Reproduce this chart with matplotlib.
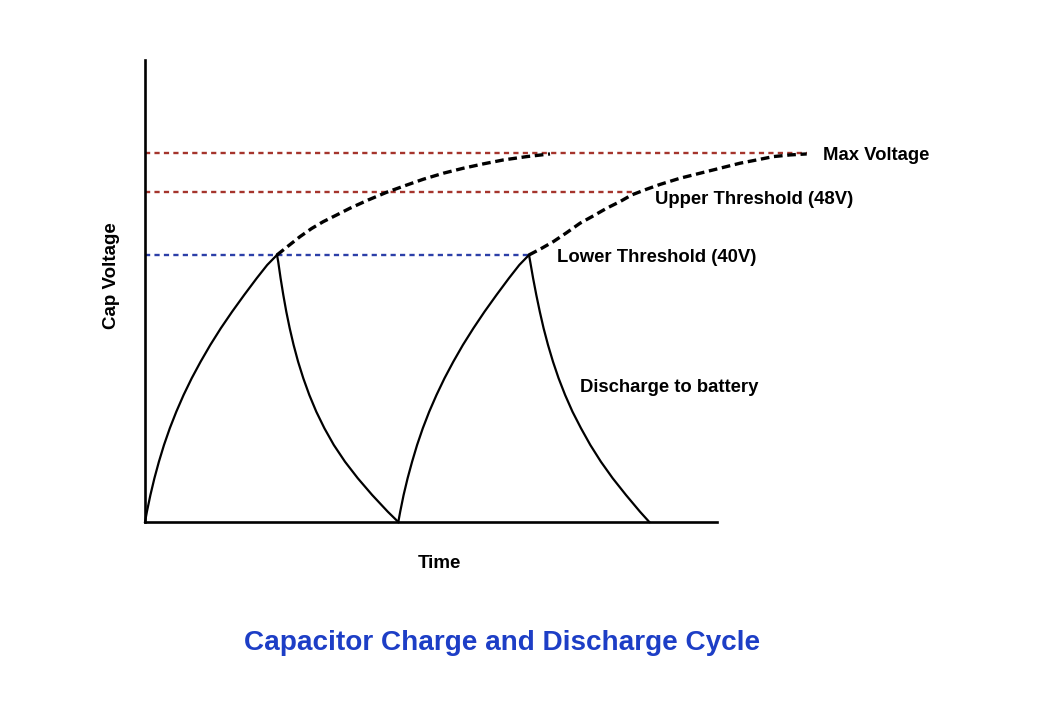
import matplotlib

matplotlib.use("Agg")
import matplotlib.pyplot as plt

plt.rcParams["font.family"] = ["Liberation Sans", "DejaVu Sans"]
plt.rcParams["font.weight"] = "bold"

# arbitrary time units, voltage scaled so the lower threshold sits at 40
charge1_t = [0.0, 0.19, 0.54, 0.94, 1.39, 1.9, 2.48, 3.13, 3.86, 4.67, 5.56,
             6.53, 7.58, 8.71, 9.92, 11.17, 12.22, 13.2]
charge1_v = [0.0, 1.54, 4.04, 6.55, 9.03, 11.54, 14.04, 16.52, 19.03, 21.53,
             24.01, 26.52, 29.02, 31.5, 34.01, 36.51, 38.5, 40.0]
discharge1_t = [13.2, 13.32, 13.56, 13.83, 14.13, 14.47, 14.86, 15.31, 15.83,
                16.43, 17.13, 17.94, 18.88, 20.0, 21.28, 22.72, 24.28, 25.33]
discharge1_v = [40.0, 39.0, 36.51, 34.01, 31.5, 29.02, 26.52, 24.01, 21.53,
                19.03, 16.52, 14.04, 11.54, 9.03, 6.55, 4.04, 1.54, 0.0]
charge2_t = [25.33, 25.52, 25.86, 26.26, 26.71, 27.21, 27.78, 28.42, 29.15,
             29.95, 30.83, 31.79, 32.84, 33.95, 35.15, 36.39, 37.43, 38.4]
charge2_v = [0.0, 1.54, 4.04, 6.55, 9.03, 11.54, 14.04, 16.52, 19.03, 21.53,
             24.01, 26.52, 29.02, 31.5, 34.01, 36.51, 38.5, 40.0]
discharge2_t = [38.4, 38.52, 38.81, 39.13, 39.48, 39.86, 40.3, 40.8, 41.36,
                42.01, 42.75, 43.6, 44.53, 45.59, 46.77, 48.1, 49.5, 50.43]
discharge2_v = [40.0, 39.0, 36.51, 34.01, 31.5, 29.02, 26.52, 24.01, 21.53,
                19.03, 16.52, 14.04, 11.54, 9.03, 6.55, 4.04, 1.54, 0.0]

# charging curves if the capacitor were left alone
ext1_t = [13.2, 14.33, 15.5, 16.67, 17.83, 19.17, 20.5, 22.33, 24.17, 26.0,
          27.83, 29.83, 31.83, 33.83, 35.83, 38.17, 40.5]
ext1_v = [40.0, 41.35, 42.74, 43.97, 44.99, 45.99, 47.0, 48.24, 49.39, 50.38,
          51.34, 52.24, 52.99, 53.64, 54.23, 54.73, 55.13]
ext2_t = [38.4, 39.67, 40.83, 42.17, 43.5, 44.83, 46.17, 47.5, 48.67, 50.17,
          51.5, 53.5, 55.5, 57.5, 59.5, 61.17, 62.83, 64.5, 66.17]
ext2_v = [40.0, 41.0, 41.99, 43.34, 44.75, 45.85, 47.0, 47.99, 48.99, 49.85,
          50.56, 51.49, 52.24, 52.99, 53.74, 54.23, 54.73, 54.98, 55.13]

levels = [55.28, 49.44, 40.0]
level_ends = [66.2, 48.7, 38.4]
level_names = ["Max Voltage", "Upper Threshold (48V)", "Lower Threshold (40V)"]
level_label_pos = [(67.8, 54.85), (51.0, 48.3), (41.2, 39.55)]
level_colors = ["#a5342c", "#a5342c", "#2c3fa8"]

fig = plt.figure(figsize=(10.43, 7.2), dpi=100)
ax = fig.add_axes([145 / 1043, 198 / 720, 572 / 1043, 462 / 720])
ax.set_xlim(0, 57.2)
ax.set_ylim(0, 69.2)
for side in ("top", "right"):
    ax.spines[side].set_visible(False)
for side in ("left", "bottom"):
    ax.spines[side].set_linewidth(1.9)
ax.set_xticks([])
ax.set_yticks([])

for v, end, color in zip(levels, level_ends, level_colors):
    ax.plot([0, end], [v, v], color=color, lw=1.7, dashes=(2.2, 1.8),
            clip_on=False, zorder=2)

for t, v in [(ext1_t, ext1_v), (ext2_t, ext2_v)]:
    ax.plot(t, v, color="black", lw=2.4, dashes=(2.6, 1.4),
            clip_on=False, zorder=3)

for t, v in [(charge1_t, charge1_v), (discharge1_t, discharge1_v),
             (charge2_t, charge2_v), (discharge2_t, discharge2_v)]:
    ax.plot(t, v, color="black", lw=1.6, solid_joinstyle="round",
            clip_on=False, zorder=4)

for name, (x, y) in zip(level_names, level_label_pos):
    ax.text(x, y, name, fontsize=13.3, ha="left", va="center", clip_on=False)
ax.text(43.5, 20.2, "Discharge to battery", fontsize=13.3, ha="left", va="center")

fig.text(439 / 1043, 1 - 564 / 720, "Time", fontsize=13.5, ha="center", va="center")
fig.text(112 / 1043, 1 - 276 / 720, "Cap Voltage", fontsize=13.5, rotation=90,
         ha="center", va="center")
fig.text(502 / 1043, 1 - 643 / 720, "Capacitor Charge and Discharge Cycle",
         fontsize=20.1, color="#1d3ec6", ha="center", va="center")

fig.savefig("out.png", dpi=100, facecolor="white")
